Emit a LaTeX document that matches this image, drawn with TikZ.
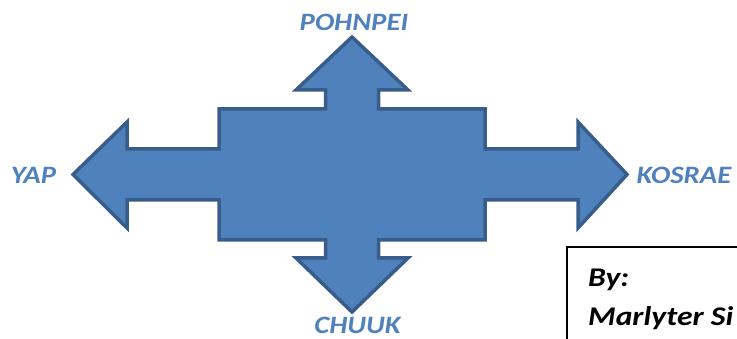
\documentclass[tikz,border=0pt]{standalone}
\usepackage{graphicx}
\usepackage{fontspec}
\setmainfont{Carlito}
\definecolor{arrowfill}{HTML}{4F81BD}
\definecolor{arrowline}{HTML}{385D8A}
\definecolor{labelblue}{HTML}{4F81BD}
\newcommand\widetext[2]{\scalebox{#1}[1]{#2}}
\begin{document}
\begin{tikzpicture}[x=1pt,y=-1pt,
  lbl/.style={text=labelblue,font=\fontsize{25}{28}\selectfont\bfseries\itshape,inner sep=0pt},
  bytext/.style={text=black,font=\fontsize{27}{30}\selectfont\bfseries\itshape,inner sep=0pt,anchor=base west}]
\useasboundingbox (0,0) rectangle (737,339);
\draw[fill=arrowfill,draw=arrowline,line width=3.5pt,line join=miter]
 (352,37) -- (408,90) -- (378.5,90) -- (378.5,109) -- (485,109) -- (485,149)
 -- (578,149) -- (578,122) -- (627,174.5) -- (578,228) -- (578,200) -- (485,200)
 -- (485,240) -- (378.5,240) -- (378.5,258) -- (408,258) -- (352,312)
 -- (296,258) -- (325.5,258) -- (325.5,240) -- (219,240) -- (219,200)
 -- (127,200) -- (127,228) -- (73,174.5) -- (127,122) -- (127,149)
 -- (219,149) -- (219,109) -- (325.5,109) -- (325.5,90) -- (296,90) -- cycle;
\node[lbl] (pohnpei) at (354,22.5) {\widetext{1.15}{POHNPEI}};
\node[lbl] (yap) at (33.5,175) {\widetext{1.15}{YAP}};
\node[lbl] (kosrae) at (684,175) {\widetext{1.15}{KOSRAE}};
\node[lbl] (chuuk) at (357.5,325.5) {\widetext{1.15}{CHUUK}};
\draw[black,line width=1.5pt] (567,360) -- (567,247) -- (760,247);
\node[bytext] (by) at (588,287) {\widetext{1.17}{By:}};
\node[bytext] (name) at (588,326) {\widetext{1.17}{Marlyter Si}};
\end{tikzpicture}
\end{document}
